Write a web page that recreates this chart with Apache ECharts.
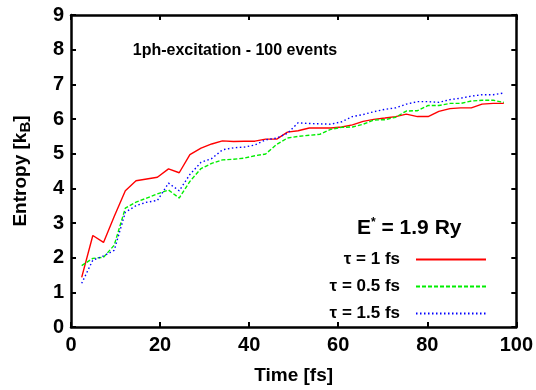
<!DOCTYPE html>
<html>
<head>
<meta charset="utf-8">
<script src="https://cdn.jsdelivr.net/npm/echarts@6/dist/echarts.min.js"></script>
<style>
  html, body { margin: 0; padding: 0; background: #fff; }
  #chart { width: 536px; height: 390px; }
</style>
</head>
<body>
<div id="chart"></div>
<script>
// time samples [fs]
const times = [2.4, 4.9, 7.3, 9.7, 12.2, 14.6, 17.0, 19.4, 21.9, 24.3,
  26.7, 29.2, 31.6, 34.0, 36.5, 38.9, 41.3, 43.7, 46.2, 48.6,
  51.0, 53.5, 55.9, 58.3, 60.8, 63.2, 65.6, 68.0, 70.5, 72.9,
  75.3, 77.8, 80.2, 82.6, 85.1, 87.5, 89.9, 92.3, 94.8, 97.2]

// entropy [k_B], tau = 1 fs
const tau1 = [1.43, 2.64, 2.44, 3.19, 3.93, 4.22, 4.27, 4.32, 4.56, 4.45,
  4.97, 5.16, 5.28, 5.37, 5.35, 5.36, 5.36, 5.42, 5.42, 5.62,
  5.66, 5.74, 5.74, 5.74, 5.77, 5.83, 5.93, 5.99, 6.03, 6.07,
  6.14, 6.07, 6.07, 6.22, 6.30, 6.32, 6.32, 6.43, 6.45, 6.45]

// tau = 0.5 fs
const tau05 = [1.77, 1.98, 2.01, 2.36, 3.43, 3.60, 3.72, 3.84, 3.95, 3.72,
  4.20, 4.57, 4.72, 4.82, 4.84, 4.87, 4.94, 4.99, 5.27, 5.45,
  5.50, 5.53, 5.56, 5.70, 5.76, 5.77, 5.85, 5.97, 5.98, 6.05,
  6.23, 6.24, 6.39, 6.39, 6.45, 6.45, 6.52, 6.54, 6.54, 6.48]

// tau = 1.5 fs
const tau15 = [1.26, 1.93, 2.05, 2.21, 3.31, 3.50, 3.60, 3.65, 4.15, 3.93,
  4.40, 4.75, 4.86, 5.11, 5.17, 5.19, 5.25, 5.40, 5.45, 5.59,
  5.89, 5.87, 5.86, 5.85, 5.92, 6.07, 6.13, 6.21, 6.28, 6.32,
  6.43, 6.50, 6.50, 6.48, 6.56, 6.60, 6.66, 6.70, 6.70, 6.75]

const xTicks = [0, 20, 40, 60, 80, 100]
const yTicks = [0, 1, 2, 3, 4, 5, 6, 7, 8, 9]

const FONT = 'Liberation Sans'

function pairs (ys) {
  return times.map((t, i) => [t, ys[i]])
}

// plain axis settings shared by all four sides
function frameAxis (extra) {
  return Object.assign({
    type: 'value',
    axisLine: { show: true, onZero: false, lineStyle: { color: '#000', width: 2.5 } },
    axisTick: { show: true, inside: true, length: 5, lineStyle: { color: '#000', width: 2 } },
    splitLine: { show: false }
  }, extra)
}

const chart = echarts.init(document.getElementById('chart'))

chart.setOption({
  animation: false,
  backgroundColor: '#fff',
  textStyle: { fontFamily: FONT },
  grid: { left: 71, right: 19, top: 15, bottom: 61 },
  title: [
    {
      text: '1ph-excitation - 100 events',
      left: 230,
      top: 38,
      textAlign: 'center',
      textStyle: { fontFamily: FONT, fontWeight: 'bold', fontSize: 16, color: '#000' }
    },
    {
      text: '{b|E}{s|*}{b| = 1.9 Ry}',
      left: 352,
      top: 212,
      textStyle: {
        rich: {
          b: { fontFamily: FONT, fontWeight: 'bold', fontSize: 21, color: '#000' },
          s: { fontFamily: FONT, fontWeight: 'bold', fontSize: 12, color: '#000', verticalAlign: 'top', padding: [0, 0, 10, 0] }
        }
      }
    }
  ],
  legend: {
    orient: 'vertical',
    right: 44,
    top: 246,
    align: 'right',
    itemWidth: 70,
    itemHeight: 8,
    itemGap: 10,
    // keep only the line sample, hide the symbol dot
    itemStyle: { opacity: 0 },
    textStyle: { fontFamily: FONT, fontWeight: 'bold', fontSize: 17, color: '#000', padding: [0, 11, 0, 0] },
    data: ['τ = 1 fs', 'τ = 0.5 fs', 'τ = 1.5 fs']
  },
  xAxis: [
    frameAxis({
      position: 'bottom',
      min: 0,
      max: 100,
      interval: 20,
      name: 'Time [fs]',
      nameLocation: 'middle',
      nameGap: 39,
      nameTextStyle: { fontFamily: FONT, fontWeight: 'bold', fontSize: 19, color: '#000' },
      axisLabel: {
        margin: 8,
        fontFamily: FONT,
        fontWeight: 'bold',
        fontSize: 20,
        color: '#000',
        formatter: v => (xTicks.includes(v) ? String(v) : '')
      }
    }),
    frameAxis({ position: 'top', min: 0, max: 100, interval: 20, axisLabel: { show: false } })
  ],
  yAxis: [
    frameAxis({
      position: 'left',
      min: 0,
      max: 9,
      interval: 1,
      name: 'Entropy [k{sub|B}]',
      nameLocation: 'middle',
      nameGap: 38,
      nameRotate: 90,
      nameTextStyle: {
        fontFamily: FONT,
        fontWeight: 'bold',
        fontSize: 19,
        color: '#000',
        rich: {
          sub: { fontFamily: FONT, fontWeight: 'bold', fontSize: 15, color: '#000', verticalAlign: 'bottom', padding: [9, 0, 0, 0] }
        }
      },
      axisLabel: {
        margin: 7,
        fontFamily: FONT,
        fontWeight: 'bold',
        fontSize: 20,
        color: '#000',
        formatter: v => (yTicks.includes(v) ? String(v) : '')
      }
    }),
    frameAxis({ position: 'right', min: 0, max: 9, interval: 1, axisLabel: { show: false } })
  ],
  series: [
    {
      name: 'τ = 1 fs',
      type: 'line',
      data: pairs(tau1),
      symbol: 'none',
      lineStyle: { color: '#ff0000', width: 1.4, type: 'solid' },
      itemStyle: { color: '#ff0000' }
    },
    {
      name: 'τ = 0.5 fs',
      type: 'line',
      data: pairs(tau05),
      symbol: 'none',
      lineStyle: { color: '#00ee00', width: 1.4, type: [4, 2] },
      itemStyle: { color: '#00ee00' }
    },
    {
      name: 'τ = 1.5 fs',
      type: 'line',
      data: pairs(tau15),
      symbol: 'none',
      lineStyle: { color: '#0000ff', width: 1.4, type: [1.5, 2.5] },
      itemStyle: { color: '#0000ff' }
    }
  ]
})
</script>
</body>
</html>
